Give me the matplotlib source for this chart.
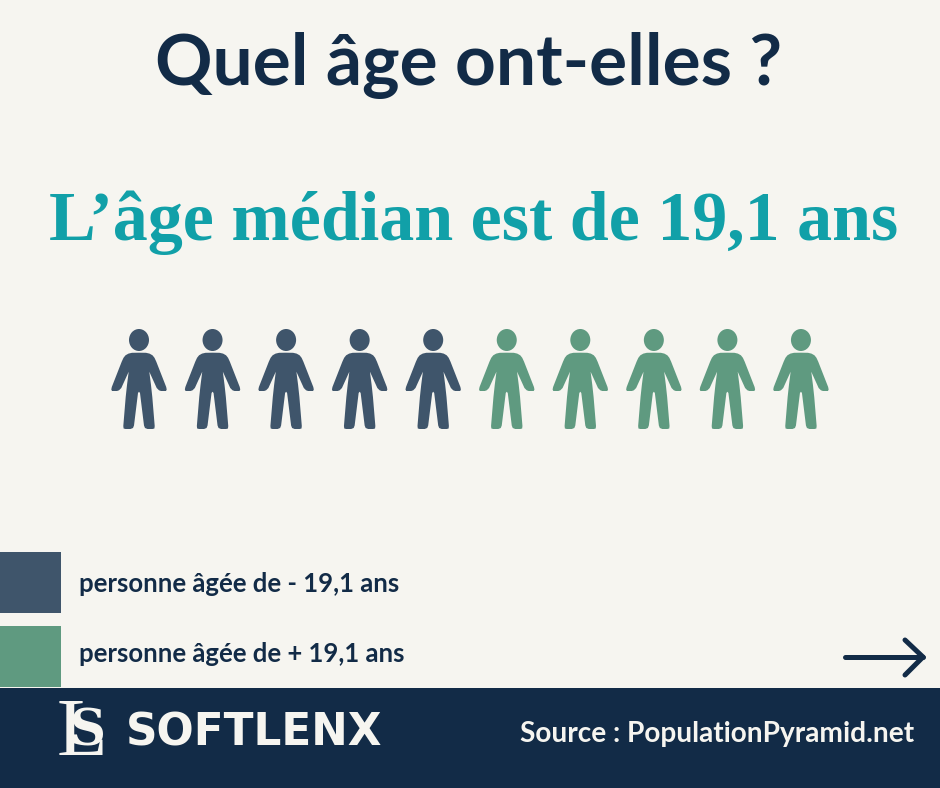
import matplotlib
matplotlib.use("Agg")
import matplotlib.pyplot as plt
from matplotlib.patches import Ellipse, PathPatch, Rectangle
from matplotlib.path import Path

# Data
groups = ["personne âgée de - 19,1 ans", "personne âgée de + 19,1 ans"]
people = [5, 5]
colors = ["#3F556B", "#5F9A80"]

title = "Quel âge ont-elles ?"
subtitle = "L’âge médian est de 19,1 ans"
source = "Source : PopulationPyramid.net"

NAVY = "#122B47"
TEAL = "#11A0A8"
BG = "#F6F5F0"


def person(ax, cx, top, color):
    # right half of the body outline, in px from the centre of the figure
    half = [(0, 23.7), (7, 23.8), (10.5, 24.6), (13.5, 26.3), (15.5, 28.8), (17.3, 32.7),
            (27.2, 58), (27.7, 60.5), (27, 62), (22, 62), (20, 61.3), (17.7, 59),
            (10.3, 42.7), (12, 56), (13.3, 68), (15.7, 97), (15.4, 99.5), (13.5, 100),
            (8.5, 100), (6, 99), (5, 96.5), (1, 64), (0, 62.7)]
    pts = half + [(-x, y) for x, y in reversed(half[:-1])]
    verts = [(cx + x, top + y) for x, y in pts]
    ax.add_patch(PathPatch(Path(verts + [verts[0]], closed=True), fc=color, ec="none"))
    ax.add_patch(Ellipse((cx, top + 11), 20, 22, fc=color, ec="none"))


fig = plt.figure(figsize=(9.4, 7.88), dpi=100, facecolor=BG)
ax = fig.add_axes([0, 0, 1, 1])
ax.set_xlim(0, 940)
ax.set_ylim(788, 0)
ax.axis("off")

ax.text(468.5, 65, title, fontsize=51.3, fontweight="bold", family="Lato", color=NAVY,
        ha="center", va="center")
ax.text(473.5, 223, subtitle, fontsize=50.4, fontweight="bold", family="Liberation Serif", color=TEAL,
        ha="center", va="center")

# Pictogram row
i = 0
for n, c in zip(people, colors):
    for _ in range(n):
        person(ax, 139 + i * 73.55, 329, c)
        i += 1

# Legend
label_y = [584, 654]
for k, (label, c) in enumerate(zip(groups, colors)):
    y = 552 + k * 74
    ax.add_patch(Rectangle((0, y), 61, 61, fc=c, ec="none"))
    ax.text(79, label_y[k], label, fontsize=18.5, fontweight="bold", family="Lato", color=NAVY,
            ha="left", va="center")

# Arrow
ax.plot([845, 923], [657, 657], color=NAVY, lw=3.6, solid_capstyle="round")
ax.plot([905, 923, 905], [640, 657, 675], color=NAVY, lw=3.6, solid_capstyle="round",
        solid_joinstyle="round")

# Footer
ax.add_patch(Rectangle((0, 688), 940, 100, fc=NAVY, ec="none"))
ax.text(57, 755, "L", fontsize=60, family="Liberation Serif", color=BG, ha="left", va="baseline")
ax.text(70, 745, "S", fontsize=36, fontweight="bold", family="DejaVu Serif", color=BG,
        ha="left", va="baseline")
ax.text(126, 746, "SOFTLENX", fontsize=31.5, fontweight="bold", family="DejaVu Sans", color=BG,
        ha="left", va="baseline")
ax.text(914, 734, source, fontsize=20.2, fontweight="bold", family="Lato", color=BG,
        ha="right", va="center")

fig.savefig("out.png", dpi=100, facecolor=BG)
